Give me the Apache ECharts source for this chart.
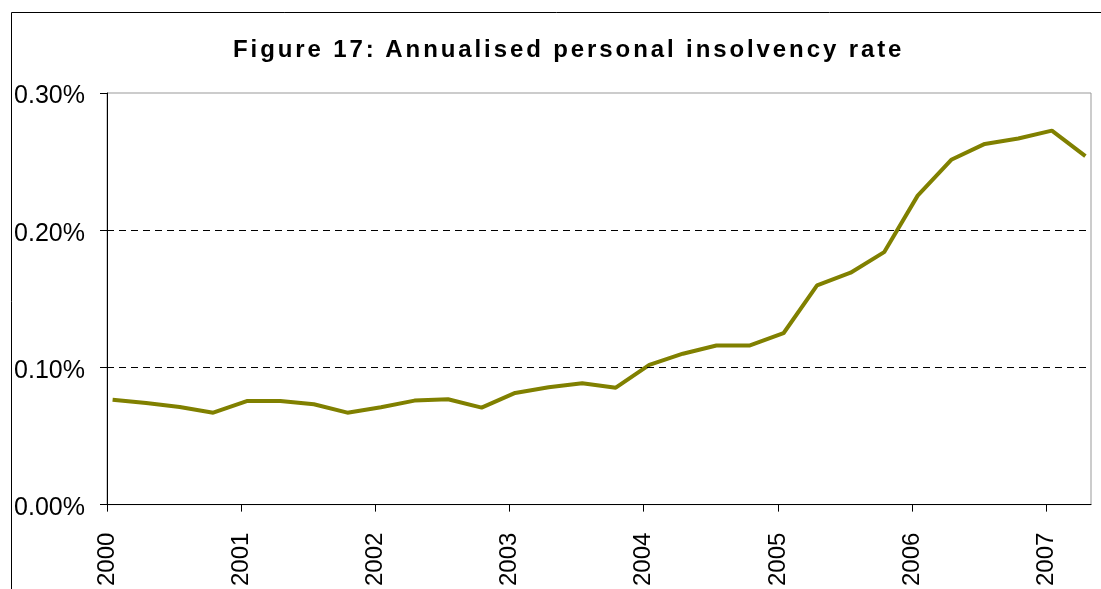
<!DOCTYPE html>
<html>
<head>
<meta charset="utf-8">
<script src="https://cdn.jsdelivr.net/npm/echarts@6/dist/echarts.min.js"></script>
<style>
  html, body { margin: 0; padding: 0; background: #fff; }
  #wrap { position: relative; width: 1101px; height: 589px; }
  #chart { width: 1101px; height: 589px; }
  #title {
    position: absolute; left: 233px; top: 37px;
    font-family: 'Liberation Sans', Arial, sans-serif;
    font-weight: bold; font-size: 24px; line-height: 24px;
    letter-spacing: 2.9px; color: #000; white-space: nowrap;
  }
</style>
</head>
<body>
<div id="wrap">
  <div id="chart"></div>
  <div id="title">Figure 17: Annualised personal insolvency rate</div>
</div>
<script>
// 季度数据 (年 季度)
const quarters = [
  '2000 Q1', '2000 Q2', '2000 Q3', '2000 Q4',
  '2001 Q1', '2001 Q2', '2001 Q3', '2001 Q4',
  '2002 Q1', '2002 Q2', '2002 Q3', '2002 Q4',
  '2003 Q1', '2003 Q2', '2003 Q3', '2003 Q4',
  '2004 Q1', '2004 Q2', '2004 Q3', '2004 Q4',
  '2005 Q1', '2005 Q2', '2005 Q3', '2005 Q4',
  '2006 Q1', '2006 Q2', '2006 Q3', '2006 Q4',
  '2007 Q1', '2007 Q2'
];
// annualised insolvency rate, %
const rate = [
  0.0765, 0.0740, 0.0712, 0.0670,
  0.0755, 0.0755, 0.0731, 0.0670,
  0.0710, 0.0758, 0.0768, 0.0707,
  0.0814, 0.0855, 0.0884, 0.0852,
  0.1019, 0.1100, 0.1160, 0.1160,
  0.1249, 0.1598, 0.1690, 0.1840,
  0.2252, 0.2513, 0.2629, 0.2668,
  0.2726, 0.2540
];
const years = [2000, 2001, 2002, 2003, 2004, 2005, 2006, 2007];
const yTicks = [0, 0.1, 0.2, 0.3];
const refLines = [0.1, 0.2];

// x轴按月计, 数据点放在季度首月中间
const toMonth = (q) => {
  const [y, qq] = q.split(' Q');
  return (Number(y) - 2000) * 12 + (Number(qq) - 1) * 3 + 0.5;
};
const yearTicks = years.map(y => (y - 2000) * 12);

const mychart = echarts.init(document.getElementById('chart'));
const option = {
  backgroundColor: '#fff',
  animation: false,
  graphic: [{
    type: 'rect',
    left: 9,
    top: 10,
    shape: { width: 1200, height: 700 },
    style: { fill: 'none', stroke: '#000', lineWidth: 1 },
    silent: true
  }],
  grid: {
    left: 107,
    right: 10,
    top: 93,
    bottom: 83,
    show: true,
    borderColor: '#999',
    borderWidth: 1,
    backgroundColor: '#fff'
  },
  xAxis: {
    type: 'value',
    min: 0,
    max: 88,
    interval: 12,
    axisLine: { lineStyle: { color: '#000', width: 1 } },
    axisTick: {
      show: true,
      length: 7,
      customValues: yearTicks,
      lineStyle: { color: '#000' }
    },
    axisLabel: {
      rotate: 90,
      margin: 28,
      customValues: yearTicks,
      formatter: v => String(2000 + v / 12),
      fontFamily: 'Liberation Sans',
      fontSize: 24,
      color: '#000'
    },
    splitLine: { show: false }
  },
  yAxis: {
    type: 'value',
    min: 0,
    max: 0.3,
    interval: 0.1,
    axisLine: { show: true, lineStyle: { color: '#000', width: 1 } },
    axisTick: { show: true, length: 7, lineStyle: { color: '#000' } },
    axisLabel: {
      margin: 22,
      customValues: yTicks,
      formatter: v => '{v|' + v.toFixed(2) + '%}',
      rich: {
        v: {
          padding: [7, 0, 0, 0],
          fontFamily: 'Liberation Sans',
          fontSize: 25,
          color: '#000'
        }
      }
    },
    splitLine: { show: false }
  },
  series: [{
    type: 'line',
    data: quarters.map((q, i) => [toMonth(q), rate[i]]),
    symbol: 'none',
    lineStyle: { color: '#808000', width: 4 },
    markLine: {
      silent: true,
      symbol: 'none',
      label: { show: false },
      lineStyle: { color: '#000', width: 1, type: [7, 5] },
      data: refLines.map(v => ({ yAxis: v }))
    },
    z: 3
  }]
};
mychart.setOption(option, true);
</script>
</body>
</html>
